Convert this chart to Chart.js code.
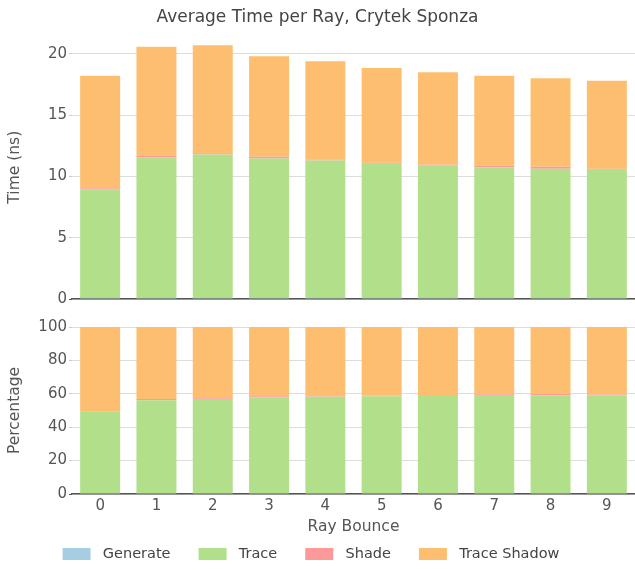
<!DOCTYPE html>
<html>
<head>
<meta charset="utf-8">
<script src="https://cdn.jsdelivr.net/npm/chart.js@4.4.1/dist/chart.umd.min.js"></script>
<style>
  body { margin: 0; background: #fff; overflow: hidden; }
  .box { position: absolute; }
</style>
</head>
<body>
<div class="box" style="left:0;top:0;width:635px;height:310px"><canvas id="timeChart"></canvas></div>
<div class="box" style="left:-31px;top:300px;width:666px;height:271px"><canvas id="pctChart"></canvas></div>
<script>
// categorías
const bounces = ['0', '1', '2', '3', '4', '5', '6', '7', '8', '9'];
const seriesNames = ['Generate', 'Trace', 'Shade', 'Trace Shadow'];
const seriesColors = ['#a6cee3', '#b2df8a', '#fb9a99', '#fdbf6f'];

// tiempo por rayo (ns)
const generateTime = [0.06, 0.06, 0.06, 0.06, 0.06, 0.06, 0.06, 0.06, 0.06, 0.06];
const traceTime = [8.9, 11.5, 11.72, 11.39, 11.23, 10.98, 10.84, 10.66, 10.57, 10.49];
const shadeTime = [0.08, 0.15, 0.1, 0.16, 0.08, 0.08, 0.08, 0.16, 0.16, 0.08];
const shadowTime = [9.16, 8.86, 8.82, 8.19, 8.03, 7.73, 7.52, 7.32, 7.21, 7.17];

// porcentaje
const generatePct = [0.3, 0.3, 0.3, 0.3, 0.3, 0.3, 0.3, 0.3, 0.3, 0.3];
const tracePct = [48.9, 55.9, 56.6, 57.5, 57.9, 58.2, 58.6, 58.6, 58.7, 58.9];
const shadePct = [0.4, 0.7, 0.5, 0.8, 0.4, 0.4, 0.4, 0.9, 0.9, 0.4];
const shadowPct = [50.4, 43.1, 42.6, 41.4, 41.4, 41.1, 40.7, 40.2, 40.1, 40.4];

// ticks
const timeTicks = [0, 5, 10, 15, 20];
const pctTicks = [0, 20, 40, 60, 80, 100];

const font = 'DejaVu Sans';
const textColor = '#555';
const shiftLeft = 31; // el lienzo inferior empieza fuera de la ventana

function makeDatasets(seriesData) {
    return seriesData.map((data, i) => ({
        label: seriesNames[i],
        data: data,
        backgroundColor: seriesColors[i],
        borderWidth: 0,
        barPercentage: 0.71,
        categoryPercentage: 1,
        stack: 'a'
    }));
}

function yAxis(title, max, ticks, extra) {
    return {
        stacked: true,
        min: 0,
        max: max,
        afterBuildTicks: s => { s.ticks = ticks.map(v => ({ value: v })); },
        afterFit: s => { s.width = 72 + extra; },
        ticks: { color: textColor, font: { family: font, size: 15 }, padding: 2 },
        grid: {
            color: '#dddddd',
            lineWidth: 1,
            tickLength: 3,
            tickColor: c => (c.tick && c.tick.value === 0) ? '#555' : '#cccccc'
        },
        border: { display: false },
        title: { display: true, text: title, color: textColor, font: { family: font, size: 15.5 }, padding: { top: 6 + extra, bottom: 0 } }
    };
}

// cuadro de leyenda: espacio vacío a la izquierda, color, y hueco antes del texto
function legendSwatch(color) {
    const c = document.createElement('canvas');
    c.width = 51;
    c.height = 12;
    const g = c.getContext('2d');
    g.fillStyle = color;
    g.fillRect(18, 0, 28, 12);
    return c;
}

const common = {
    responsive: true,
    maintainAspectRatio: false,
    animation: false,
};

new Chart(document.getElementById('timeChart'), {
    type: 'bar',
    data: {
        labels: bounces,
        datasets: makeDatasets([generateTime, traceTime, shadeTime, shadowTime])
    },
    options: {
        ...common,
        layout: { padding: { left: 0, right: 0, top: 0, bottom: 2 } },
        plugins: {
            legend: { display: false },
            tooltip: { enabled: false },
            title: {
                display: true,
                text: 'Average Time per Ray, Crytek Sponza',
                color: '#444',
                font: { family: font, size: 17, weight: 'normal' },
                padding: { top: 7, bottom: 8 }
            }
        },
        scales: {
            x: {
                stacked: true,
                offset: true,
                afterFit: s => { s.height = 0; },
                ticks: { display: false },
                grid: { display: false, drawTicks: false },
                border: { display: true, color: '#555', width: 1.5 }
            },
            y: yAxis('Time (ns)', 21.5, timeTicks, 0)
        }
    }
});

new Chart(document.getElementById('pctChart'), {
    type: 'bar',
    data: {
        labels: bounces,
        datasets: makeDatasets([generatePct, tracePct, shadePct, shadowPct])
    },
    options: {
        ...common,
        layout: { padding: { left: 0, right: 0, top: 27, bottom: 0 } },
        plugins: {
            tooltip: { enabled: false },
            legend: {
                position: 'bottom',
                labels: {
                    color: '#444',
                    font: { family: font, size: 14.5 },
                    usePointStyle: true,
                    pointStyleWidth: 51,
                    boxHeight: 12,
                    padding: 10,
                    generateLabels: () => seriesNames.map((name, i) => ({
                        text: name,
                        fillStyle: seriesColors[i],
                        strokeStyle: seriesColors[i],
                        lineWidth: 0,
                        pointStyle: legendSwatch(seriesColors[i]),
                        fontColor: '#444',
                        hidden: false,
                        datasetIndex: i
                    }))
                }
            }
        },
        scales: {
            x: {
                stacked: true,
                offset: true,
                afterFit: s => { s.height = 42.5; },
                ticks: { color: textColor, font: { family: font, size: 15 }, padding: 3 },
                grid: { display: false, drawTicks: false },
                border: { display: true, color: '#555', width: 1.5 },
                title: { display: true, text: 'Ray Bounce', color: textColor, font: { family: font, size: 15.5 }, padding: { top: 3, bottom: 0 } }
            },
            y: yAxis('Percentage', 100, pctTicks, shiftLeft)
        }
    }
});
</script>
</body>
</html>
